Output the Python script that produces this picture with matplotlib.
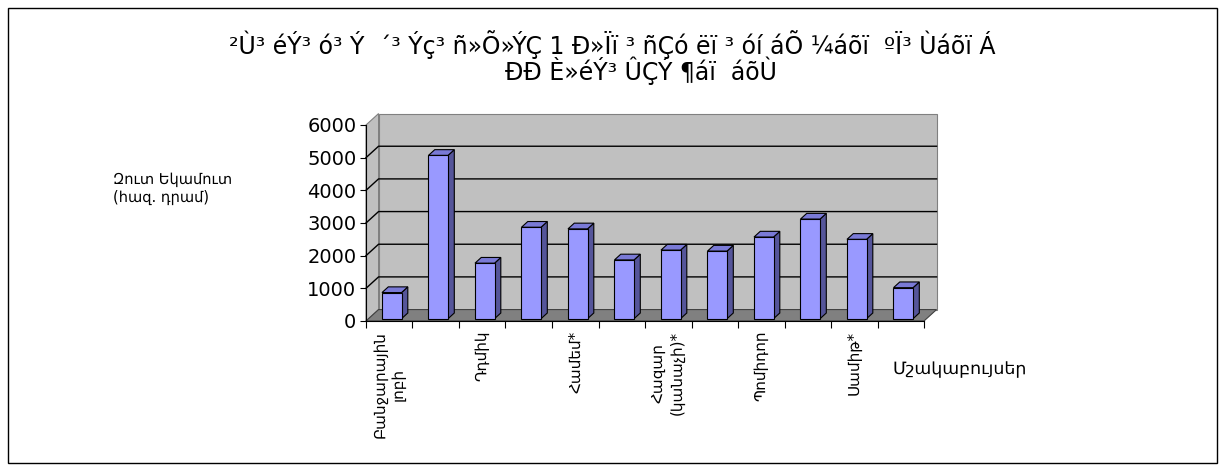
import matplotlib.pyplot as plt
from matplotlib.patches import Polygon, Rectangle

plt.rcParams['font.family'] = ['DejaVu Sans']

# net income per hectare, one bar per crop (thousand AMD)
net_income = [800, 5000, 1700, 2800, 2750, 1800, 2100, 2070, 2500, 3050, 2430, 950]
# only every second crop name is printed under the axis
crop_labels = ["Բանջարային\nլոբի", "Դդմիկ", "Համեմ*", "Հազար\n(կանաչի)*", "Պոմիդոր", "Սամիթ*"]
label_slots = [0, 2, 4, 6, 8, 10]
y_ticks = [0, 1000, 2000, 3000, 4000, 5000, 6000]

title_lines = ["²Ù³ éÝ³ ó³ Ý  ´³ Ýç³ ñ»Õ»ÝÇ 1 Ð»Ïï ³ ñÇó ëï ³ óí áÕ ¼áõï  ºÏ³ Ùáõï Á",
               "ÐÐ È»éÝ³ ÛÇÝ ¶áï  áõÙ"]
y_title = "Զուտ Եկամուտ\n(հազ. դրամ)"
x_title = "Մշակաբույսեր"

W, H = 1225, 472
fig = plt.figure(figsize=(W / 100, H / 100), dpi=100)
fig.patch.set_facecolor("white")
fig.add_artist(Rectangle((8 / W, 1 - 463 / H), 1209 / W, 455 / H, transform=fig.transFigure,
                         fill=False, edgecolor="black", lw=1))

ax = fig.add_axes([366 / W, 1 - 321 / H, 558 / W, 196 / H])
n = len(net_income)
ymax = y_ticks[-1]
ax.set_xlim(0, n)
ax.set_ylim(0, ymax)
ax.patch.set_visible(False)

# depth of the pseudo-3d box, in data units
dx = 0.27
dy = 350

def poly(pts, fc, ec="black", lw=0.8, z=1):
    ax.add_patch(Polygon(pts, closed=True, facecolor=fc, edgecolor=ec, lw=lw, zorder=z, clip_on=False))

# walls and floor
poly([(dx, dy), (n + dx, dy), (n + dx, ymax + dy), (dx, ymax + dy)], "#c0c0c0", ec="#808080", z=1)
poly([(0, 0), (dx, dy), (dx, ymax + dy), (0, ymax)], "#c0c0c0", ec="#808080", z=1)
poly([(0, 0), (n, 0), (n + dx, dy), (dx, dy)], "#808080", ec="#404040", z=2)
for v in y_ticks[1:-1]:
    ax.plot([0, dx, n + dx], [v, v + dy, v + dy], color="black", lw=1, zorder=2, clip_on=False)

# bars
bw = 0.42
f0, fd = 0.2, 0.5
for i, v in enumerate(net_income):
    x0 = i + 0.5 - bw / 2 + f0 * dx
    y0 = f0 * dy
    ox, oy = fd * dx, fd * dy
    poly([(x0 + bw, y0), (x0 + bw + ox, y0 + oy), (x0 + bw + ox, y0 + v + oy), (x0 + bw, y0 + v)],
         "#55559a", z=3)
    poly([(x0, y0 + v), (x0 + bw, y0 + v), (x0 + bw + ox, y0 + v + oy), (x0 + ox, y0 + v + oy)],
         "#7a7ad6", z=3)
    poly([(x0, y0), (x0 + bw, y0), (x0 + bw, y0 + v), (x0, y0 + v)], "#9999ff", z=3)

for side in ["top", "right"]:
    ax.spines[side].set_visible(False)
for side in ["left", "bottom"]:
    ax.spines[side].set_zorder(4)

ax.set_yticks(y_ticks)
ax.tick_params(axis="y", labelsize=14, length=4, pad=3)
ax.set_xticks(range(n + 1), labels=[""] * (n + 1))
ax.tick_params(axis="x", which="major", length=5)
ax.set_xticks([s + 0.5 for s in label_slots], labels=crop_labels, minor=True)
ax.tick_params(axis="x", which="minor", length=0, pad=7, labelsize=11, labelrotation=90)
for lab in ax.get_xticklabels(minor=True):
    lab.set_multialignment("center")

fig.text(612 / W, 1 - 45 / H, title_lines[0], ha="center", va="center", fontsize=17)
fig.text(641 / W, 1 - 71 / H, title_lines[1], ha="center", va="center", fontsize=17)
fig.text(113 / W, 1 - 172 / H, y_title, ha="left", va="top", fontsize=10.5)
fig.text(893 / W, 1 - 369 / H, x_title, ha="left", va="center", fontsize=12.5)

fig.savefig("out.png", dpi=100)
